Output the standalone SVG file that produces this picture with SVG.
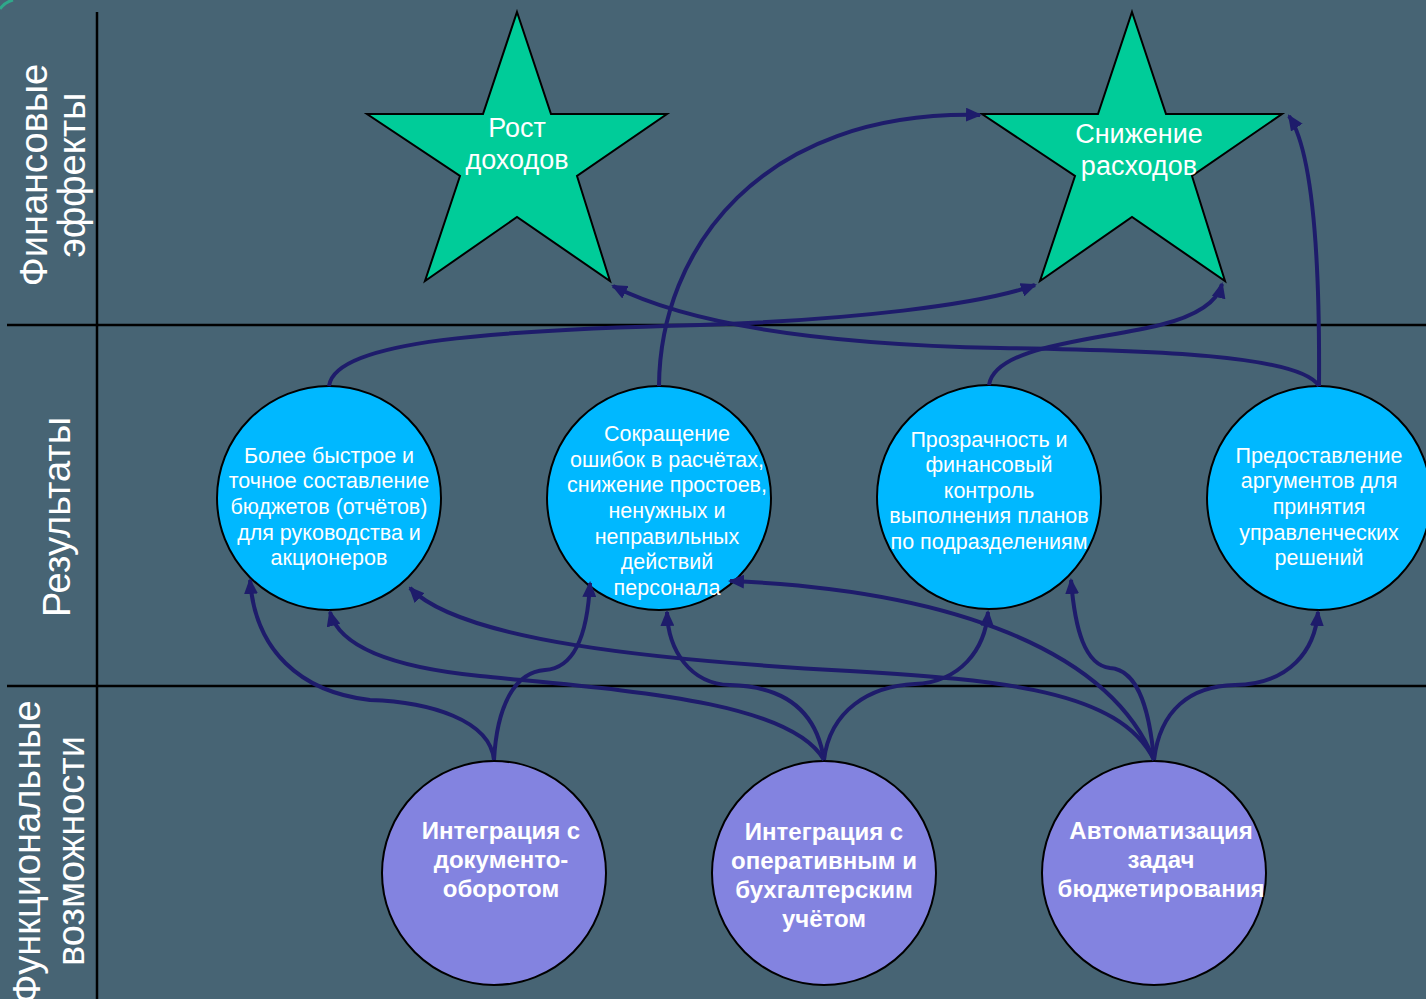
<svg xmlns="http://www.w3.org/2000/svg" width="1426" height="999" viewBox="0 0 1426 999">
<defs>
<style>
.grid{stroke:#000;stroke-width:2.5;fill:none}
.lbl{font-family:"Liberation Sans",Arial,sans-serif;font-size:38px;fill:#fff;text-anchor:middle}
.star{fill:#00CC99;stroke:#000;stroke-width:2}
.st{font-family:"Liberation Sans",Arial,sans-serif;font-size:27px;fill:#fff;text-anchor:middle}
.res{fill:#00B8FF;stroke:#000;stroke-width:2}
.rt{font-family:"Liberation Sans",Arial,sans-serif;font-size:21.5px;fill:#fff;text-anchor:middle}
.fn{fill:#8383E0;stroke:#000;stroke-width:2}
.ft{font-family:"Liberation Sans",Arial,sans-serif;font-size:24px;font-weight:bold;fill:#fff;text-anchor:middle}
.c{fill:none;stroke:#1E1C6B;stroke-width:4;marker-end:url(#ah)}
</style>
<marker id="ah" markerUnits="userSpaceOnUse" markerWidth="16" markerHeight="14" refX="14" refY="7" orient="auto">
<path d="M0,0 L16,7 L0,14 Z" fill="#1E1C6B"/>
</marker>
</defs>
<rect width="1426" height="999" fill="#476474"/>
<path d="M0,9 Q5,2 13,0" stroke="#2FA88A" stroke-width="3" fill="none"/>
<g id="grid">
<line class="grid" x1="97" y1="12" x2="97" y2="999"/>
<line class="grid" x1="7" y1="325" x2="1426" y2="325"/>
<line class="grid" x1="7" y1="686" x2="1426" y2="686"/>
</g>
<g id="labels">
<text class="lbl" transform="translate(47,175) rotate(-90)">Финансовые</text>
<text class="lbl" transform="translate(85,175) rotate(-90)">эффекты</text>
<text class="lbl" transform="translate(70,517) rotate(-90)">Результаты</text>
<text class="lbl" transform="translate(40,852) rotate(-90)">Функциональные</text>
<text class="lbl" transform="translate(84,851) rotate(-90)">возможности</text>
</g>
<g id="star1">
<polygon class="star" points="517,12 551,114 667,114 577,176 610,281 517,217 425,281 460,176 367,114 483,114"/>
<text class="st" x="517" y="137">Рост</text>
<text class="st" x="517" y="169">доходов</text>
</g>
<g id="star2">
<polygon class="star" points="1132,12 1166,114 1282,114 1192,176 1225,281 1132,217 1040,281 1075,176 982,114 1098,114"/>
<text class="st" x="1139" y="143">Снижение</text>
<text class="st" x="1139" y="175">расходов</text>
</g>
<g id="res1">
<circle class="res" cx="329" cy="498" r="112"/>
<text class="rt" x="329" y="463">Более быстрое и</text>
<text class="rt" x="329" y="488">точное составление</text>
<text class="rt" x="329" y="514">бюджетов (отчётов)</text>
<text class="rt" x="329" y="540">для руководства и</text>
<text class="rt" x="329" y="565">акционеров</text>
</g>
<g id="res2">
<circle class="res" cx="659" cy="498" r="112"/>
<text class="rt" x="667" y="441">Сокращение</text>
<text class="rt" x="667" y="467">ошибок в расчётах,</text>
<text class="rt" x="667" y="492">снижение простоев,</text>
<text class="rt" x="667" y="518">ненужных и</text>
<text class="rt" x="667" y="544">неправильных</text>
<text class="rt" x="667" y="569">действий</text>
<text class="rt" x="667" y="595">персонала</text>
</g>
<g id="res3">
<circle class="res" cx="989" cy="497" r="112"/>
<text class="rt" x="989" y="447">Прозрачность и</text>
<text class="rt" x="989" y="472">финансовый</text>
<text class="rt" x="989" y="498">контроль</text>
<text class="rt" x="989" y="523">выполнения планов</text>
<text class="rt" x="989" y="549">по подразделениям</text>
</g>
<g id="res4">
<circle class="res" cx="1319" cy="498" r="112"/>
<text class="rt" x="1319" y="463">Предоставление</text>
<text class="rt" x="1319" y="488">аргументов для</text>
<text class="rt" x="1319" y="514">принятия</text>
<text class="rt" x="1319" y="540">управленческих</text>
<text class="rt" x="1319" y="565">решений</text>
</g>
<g id="fn1">
<circle class="fn" cx="494" cy="873" r="112"/>
<text class="ft" x="501" y="839">Интеграция с</text>
<text class="ft" x="501" y="868">документо-</text>
<text class="ft" x="501" y="897">оборотом</text>
</g>
<g id="fn2">
<circle class="fn" cx="824" cy="873" r="112"/>
<text class="ft" x="824" y="840">Интеграция с</text>
<text class="ft" x="824" y="869">оперативным и</text>
<text class="ft" x="824" y="898">бухгалтерским</text>
<text class="ft" x="824" y="927">учётом</text>
</g>
<g id="fn3">
<circle class="fn" cx="1154" cy="873" r="112"/>
<text class="ft" x="1161" y="839">Автоматизация</text>
<text class="ft" x="1161" y="868">задач</text>
<text class="ft" x="1161" y="897">бюджетирования</text>
</g>
<g id="connectors">
<path class="c" d="M494,760 C490,720 430,702 370,700 C300,692 255,650 250,580"/>
<path class="c" d="M494,760 C497,705 515,672 545,670 C578,668 588,625 590,583"/>
<path class="c" d="M824,760 C815,700 770,686 730,685 C690,684 668,650 667,612"/>
<path class="c" d="M824,760 C830,710 870,686 915,684 C960,682 985,650 988,612"/>
<path class="c" d="M824,760 C790,700 620,690 480,676 C400,668 340,650 330,612"/>
<path class="c" d="M1154,760 C1120,690 1000,680 850,671 C650,660 460,640 410,588"/>
<path class="c" d="M1154,760 C1110,650 950,590 730,581"/>
<path class="c" d="M1154,760 C1150,715 1140,670 1110,668 C1085,665 1075,630 1071,580"/>
<path class="c" d="M1154,760 C1160,710 1190,686 1235,685 C1290,684 1315,650 1318,612"/>
<path class="c" d="M329,386 C335,340 500,330 700,325 C850,320 980,305 1035,285"/>
<path class="c" d="M1319,386 C1300,355 1150,350 1000,348 C850,345 700,330 613,286"/>
<path class="c" d="M659,386 C660,250 760,110 980,115"/>
<path class="c" d="M989,385 C995,345 1100,340 1160,325 C1200,315 1218,300 1222,284"/>
<path class="c" d="M1319,386 C1320,250 1312,150 1289,116"/>
</g>
</svg>
